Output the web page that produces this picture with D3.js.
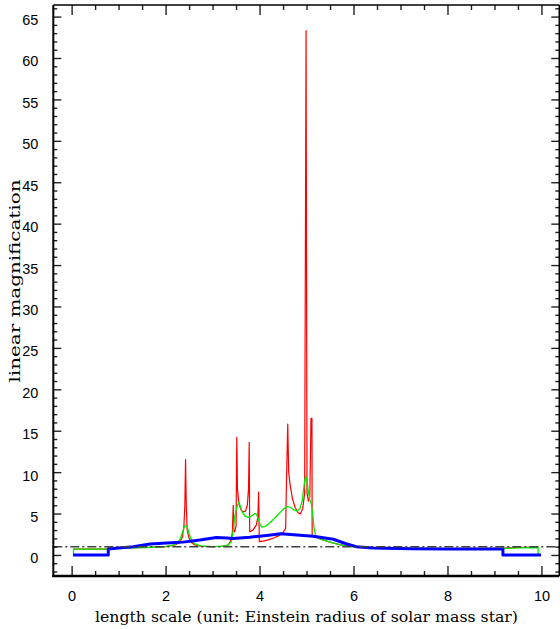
<!DOCTYPE html>
<html>
<head>
<meta charset="utf-8">
<script src="https://cdn.jsdelivr.net/npm/d3@7"></script>
<style>
  html, body { margin: 0; padding: 0; background: #fff; }
  svg { display: block; }
</style>
</head>
<body>
<svg id="chart" width="560" height="629"></svg>
<script>
// Tick positions
const xMajorTicks = [0, 2, 4, 6, 8, 10];
const xMinorTicks = [0.5, 1, 1.5, 2.5, 3, 3.5, 4.5, 5, 5.5, 6.5, 7, 7.5, 8.5, 9, 9.5];
const yMajorTicks = [0, 5, 10, 15, 20, 25, 30, 35, 40, 45, 50, 55, 60, 65];
const yMinorTicks = d3.range(-2, 67, 1).filter(v => v % 5 !== 0);

// Reference level (unit magnification)
const unitLevel = 1;

// Point-source light curve: sharp caustic spikes (x, magnification)
const redCurve = [
  [0.04, 0.7], [0.78, 0.7], [0.78, 0.82], [1.2, 0.85], [1.6, 0.9], [2.0, 1.0],
  [2.2, 1.2], [2.3, 1.5], [2.36, 2.2], [2.39, 3.5], [2.41, 6.0], [2.425, 11.5],
  [2.44, 6.0], [2.46, 3.0], [2.5, 2.0], [2.55, 1.5], [2.62, 1.2], [2.75, 1.05],
  [3.0, 1.0], [3.2, 1.05], [3.33, 1.2], [3.38, 1.6], [3.42, 2.6], [3.44, 6.0],
  [3.45, 3.0], [3.47, 2.8], [3.5, 3.5], [3.515, 14.2], [3.53, 8.0], [3.56, 6.2],
  [3.6, 5.5], [3.65, 5.2], [3.7, 5.3], [3.74, 6.0], [3.765, 8.0], [3.78, 13.6],
  [3.79, 2.8], [3.86, 3.0], [3.93, 3.6], [3.965, 4.6], [3.98, 7.6], [3.995, 1.6],
  [4.1, 1.7], [4.2, 1.85], [4.3, 2.05], [4.4, 2.3], [4.5, 2.7], [4.555, 3.2],
  [4.57, 8.0], [4.6, 15.8], [4.62, 10.0], [4.65, 8.5], [4.7, 6.8], [4.76, 5.7],
  [4.82, 5.1], [4.87, 4.95], [4.92, 5.6], [4.96, 7.5], [4.99, 63.3], [5.01, 7.5],
  [5.04, 6.5], [5.07, 7.0], [5.095, 16.5], [5.115, 16.5], [5.12, 2.3], [5.2, 2.2],
  [5.3, 1.9], [5.5, 1.55], [5.7, 1.25], [5.9, 1.05], [6.1, 0.95], [6.5, 0.85],
  [7.0, 0.8], [8.0, 0.78], [9.17, 0.82], [9.5, 0.9], [9.93, 0.97]
];

// Small-source light curve: smoothed peaks
const greenCurve = [
  [0.04, 0], [0.04, 0.7], [0.78, 0.7], [0.78, 0.82], [1.2, 0.85], [1.6, 0.9],
  [2.0, 1.0], [2.2, 1.25], [2.3, 1.8], [2.36, 2.7], [2.4, 3.4], [2.43, 3.55],
  [2.46, 3.4], [2.5, 2.6], [2.55, 1.8], [2.62, 1.35], [2.75, 1.1], [3.0, 1.0],
  [3.2, 1.05], [3.33, 1.2], [3.4, 1.6], [3.44, 3.0], [3.47, 4.6], [3.5, 5.4],
  [3.53, 6.0], [3.56, 6.4], [3.59, 5.9], [3.63, 5.2], [3.69, 4.7], [3.76, 4.55],
  [3.83, 4.7], [3.9, 5.0], [3.93, 4.95], [3.97, 4.4], [4.01, 3.7], [4.05, 3.35],
  [4.12, 3.45], [4.22, 3.9], [4.33, 4.5], [4.43, 5.1], [4.52, 5.6], [4.6, 5.85],
  [4.67, 5.7], [4.74, 5.4], [4.8, 5.3], [4.86, 5.6], [4.91, 6.6], [4.95, 8.5],
  [4.98, 9.5], [5.01, 9.0], [5.04, 7.6], [5.07, 6.6], [5.1, 6.2], [5.13, 5.0],
  [5.16, 3.2], [5.2, 2.2], [5.3, 1.9], [5.5, 1.55], [5.7, 1.25], [5.9, 1.05],
  [6.1, 0.95], [6.5, 0.85], [7.0, 0.78], [8.0, 0.75], [9.17, 0.78], [9.5, 0.85],
  [9.93, 0.9], [9.93, 0]
];

// Large-source light curve: broad and flat
const blueCurve = [
  [0.03, 0], [0.78, 0], [0.78, 0.72], [1.0, 0.85], [1.31, 1.0], [1.67, 1.33],
  [2.02, 1.45], [2.37, 1.55], [2.73, 1.8], [3.08, 2.1], [3.3, 2.05], [3.44, 2.0],
  [3.79, 2.15], [4.15, 2.35], [4.45, 2.55], [4.8, 2.4], [5.14, 2.25], [5.57, 1.9],
  [5.84, 1.35], [6.06, 1.0], [6.41, 0.85], [7.26, 0.75], [8.0, 0.72], [9.18, 0.72],
  [9.18, 0], [9.99, 0]
];

const svg = d3.select("#chart");

const plotLeft = 53.3, plotRight = 559.3, plotTop = 5, plotBottom = 576;

const x = d3.scaleLinear().domain([-0.39, 10.38]).range([plotLeft, plotRight]);
const y = d3.scaleLinear().domain([-2.54, 66.4]).range([plotBottom, plotTop]);

const line = d3.line().x(d => x(d[0])).y(d => y(d[1]));

// Curves
svg.append("path").datum(redCurve).attr("d", line)
  .attr("fill", "none").attr("stroke", "#ff0000").attr("stroke-width", 1.2)
  .attr("stroke-linejoin", "round");
svg.append("path").datum(greenCurve).attr("d", line)
  .attr("fill", "none").attr("stroke", "#00ee00").attr("stroke-width", 1.3)
  .attr("stroke-linejoin", "round");
svg.append("path").datum(blueCurve).attr("d", line)
  .attr("fill", "none").attr("stroke", "#0000ff").attr("stroke-width", 3)
  .attr("stroke-linejoin", "round");

// Unit magnification line
svg.append("line")
  .attr("x1", plotLeft).attr("x2", plotRight)
  .attr("y1", y(unitLevel)).attr("y2", y(unitLevel))
  .attr("stroke", "#404040").attr("stroke-width", 1.4)
  .attr("stroke-dasharray", "9,3,2,3");

// Axes with inward ticks on all four sides
const tickColor = "#222";
function styleAxis(g) {
  g.select(".domain").remove();
  g.selectAll(".tick line").attr("stroke", tickColor).attr("stroke-width", 1.4);
  g.selectAll(".tick text").attr("fill", "#000")
    .style("font-family", "'Liberation Sans', Arial, sans-serif")
    .style("font-size", "14.5px");
}

// bottom
svg.append("g").attr("transform", `translate(0,${plotBottom})`)
  .call(d3.axisBottom(x).tickValues(xMajorTicks).tickSize(-10).tickPadding(15)
    .tickFormat(d3.format("d")))
  .call(styleAxis);
svg.append("g").attr("transform", `translate(0,${plotBottom})`)
  .call(d3.axisBottom(x).tickValues(xMinorTicks).tickSize(-5).tickFormat(""))
  .call(styleAxis);
// top
svg.append("g").attr("transform", `translate(0,${plotTop})`)
  .call(d3.axisTop(x).tickValues(xMajorTicks).tickSize(-10).tickFormat(""))
  .call(styleAxis);
svg.append("g").attr("transform", `translate(0,${plotTop})`)
  .call(d3.axisTop(x).tickValues(xMinorTicks).tickSize(-5).tickFormat(""))
  .call(styleAxis);
// left
const gLeft = svg.append("g").attr("transform", `translate(${plotLeft},0)`)
  .call(d3.axisLeft(y).tickValues(yMajorTicks).tickSize(-8).tickPadding(15)
    .tickFormat(d3.format("d")))
  .call(styleAxis);
gLeft.selectAll(".tick text").attr("dy", "0.55em");
svg.append("g").attr("transform", `translate(${plotLeft},0)`)
  .call(d3.axisLeft(y).tickValues(yMinorTicks).tickSize(-4).tickFormat(""))
  .call(styleAxis);
// right
svg.append("g").attr("transform", `translate(${plotRight},0)`)
  .call(d3.axisRight(y).tickValues(yMajorTicks).tickSize(-8).tickFormat(""))
  .call(styleAxis);
svg.append("g").attr("transform", `translate(${plotRight},0)`)
  .call(d3.axisRight(y).tickValues(yMinorTicks).tickSize(-4).tickFormat(""))
  .call(styleAxis);

// Frame
svg.append("line").attr("x1", plotLeft).attr("x2", plotLeft).attr("y1", plotTop).attr("y2", plotBottom + 1)
  .attr("stroke", "#000").attr("stroke-width", 2);
svg.append("line").attr("x1", plotLeft - 1).attr("x2", plotRight).attr("y1", plotBottom).attr("y2", plotBottom)
  .attr("stroke", "#000").attr("stroke-width", 2.5);
svg.append("line").attr("x1", plotLeft).attr("x2", plotRight).attr("y1", plotTop).attr("y2", plotTop)
  .attr("stroke", "#000").attr("stroke-width", 1.5);
svg.append("line").attr("x1", plotRight).attr("x2", plotRight).attr("y1", plotTop).attr("y2", plotBottom)
  .attr("stroke", "#000").attr("stroke-width", 1.5);

// Axis titles
const titleFont = "'DejaVu Serif', serif";
svg.append("text")
  .attr("x", 306.5).attr("y", 622)
  .attr("text-anchor", "middle")
  .attr("textLength", 423).attr("lengthAdjust", "spacingAndGlyphs")
  .style("font-family", titleFont).style("font-size", "15px")
  .text("length scale (unit: Einstein radius of solar mass star)");

svg.append("text")
  .attr("transform", "translate(20,281) rotate(-90)")
  .attr("text-anchor", "middle")
  .attr("textLength", 203).attr("lengthAdjust", "spacingAndGlyphs")
  .style("font-family", titleFont).style("font-size", "15px")
  .text("linear magnification");
</script>
</body>
</html>
